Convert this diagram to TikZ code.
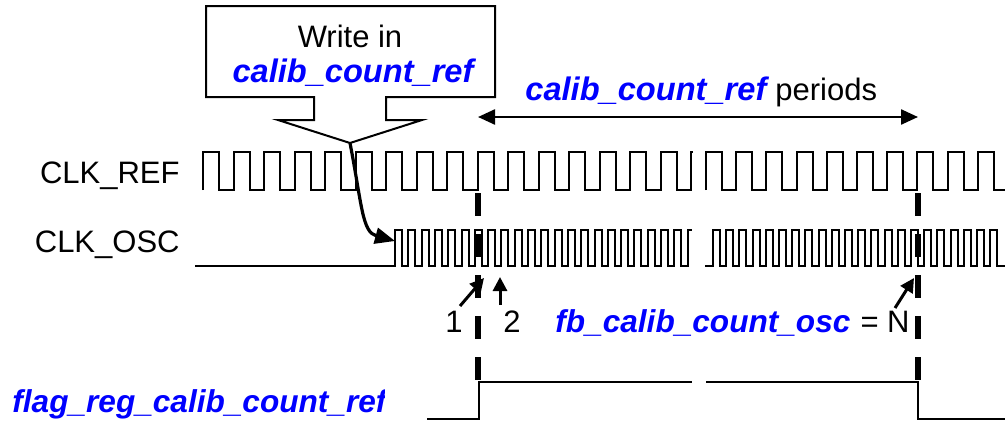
\documentclass[tikz,border=0pt]{standalone}
\usepackage{fontspec}
\setmainfont{Liberation Sans}
\usetikzlibrary{arrows.meta}

\newcommand{\regname}[2][16.3]{\textcolor{blue}{\fontsize{#1}{18}\selectfont\bfseries\itshape #2}}

\tikzset{
  every node/.style={inner sep=0pt, font=\fontsize{15.5}{18}\selectfont},
  wave/.style={line width=1pt},
  cursor/.style={line width=3pt, dash pattern=on 11.5pt off 9pt},
  ptr/.style={line width=1.5pt, -{Triangle[length=7pt,width=7pt]}}
}

\begin{document}
\begin{tikzpicture}[x=0.5pt, y=-0.5pt]
\useasboundingbox (0,0) rectangle (1005,423);

% Callout
\draw[wave] (206,6) -- (495,6) -- (495,97) -- (386,97) -- (386,120) -- (422,120)
  -- (350,143) coordinate (tip) -- (278,120) -- (314,120) -- (314,97) -- (206,97) -- cycle;
\node[anchor=base] (wr) at (350,47) {Write in};
\node[anchor=base] (wrreg) at (353,82) {\regname{calib\_count\_ref}};

% Periods
\coordinate (pa) at (478,117);
\coordinate (pb) at (918,117);
\draw[line width=1.2pt, {Triangle[length=8.5pt,width=7.5pt]}-{Triangle[length=8.5pt,width=7.5pt]}] (pa) -- (pb);
\node[anchor=base west] (per) at (525,100) {\regname{calib\_count\_ref}};
\node[anchor=base west] (perw) at (775,100) {periods};

% Labels
\node[anchor=base east] (refl) at (180,183) {CLK\_REF};
\node[anchor=base east] (oscl) at (180,252) {CLK\_OSC};

% CLK_REF
\draw[wave] (203,190) \foreach \k in {1,...,16} { -- ++(0,-38) -- ++(16,0) -- ++(0,38) -- ++(14.5,0) } -- ++(0,-38) -- ++(2,0);
\draw[wave] (706,190) \foreach \k in {1,...,9} { -- ++(0,-38) -- ++(16,0) -- ++(0,38) -- ++(14.2,0) } -- ++(0,-38) -- ++(16,0) -- ++(0,38) -- (1005,190);

% CLK_OSC
\draw[wave] (195,266) -- (395,266) coordinate (osc0) \foreach \k in {1,...,22} { -- ++(0,-36) -- ++(7,0) -- ++(0,36) -- ++(6.3,0) } -- ++(0,-36) -- ++(4,0);
\draw[wave] (705,266) -- (713,266) \foreach \k in {1,...,22} { -- ++(0,-36) -- ++(7,0) -- ++(0,36) -- ++(6.2,0) } -- (1005,266);

% Write arrow
\coordinate (wend) at (395,241);
\draw[line width=1.6pt, -{Triangle[length=10pt,width=8pt]}] (tip) .. controls (362,205) and (362,232) .. (wend);

% Cursors
\coordinate (c1t) at (478,193);
\coordinate (c1b) at (478,382);
\coordinate (c2t) at (918,193);
\coordinate (c2b) at (918,382);
\draw[cursor] (c1t) -- (c1b);
\draw[cursor] (c2t) -- (c2b);

% Flag
\draw[wave] (427,419) -- (479,419) -- (479,382) -- (692,382);
\draw[wave] (706,382) -- (918,382) -- (918,419) -- (1005,419);

% Count
\node[anchor=base] (n1) at (454,332) {1};
\node[anchor=base] (n2) at (512,332) {2};
\node[anchor=base west] (cnt) at (555,332) {\regname[15.8]{fb\_calib\_count\_osc}};
\node[anchor=base east] (cntn) at (910,332) {= N};
\coordinate (a1) at (460,306);
\coordinate (a1e) at (484,278);
\coordinate (a2) at (500,305);
\coordinate (a2e) at (500,277);
\coordinate (a3) at (895,308);
\coordinate (a3e) at (914,278);
\draw[ptr] (a1) -- (a1e);
\draw[ptr] (a2) -- (a2e);
\draw[ptr] (a3) -- (a3e);

% Flag label
\begin{scope}
\clip (0,370) rectangle (384,423);
\node[anchor=base west] (flag) at (12,412) {\regname[15.8]{flag\_reg\_calib\_count\_ref}};
\end{scope}

\end{tikzpicture}
\end{document}
